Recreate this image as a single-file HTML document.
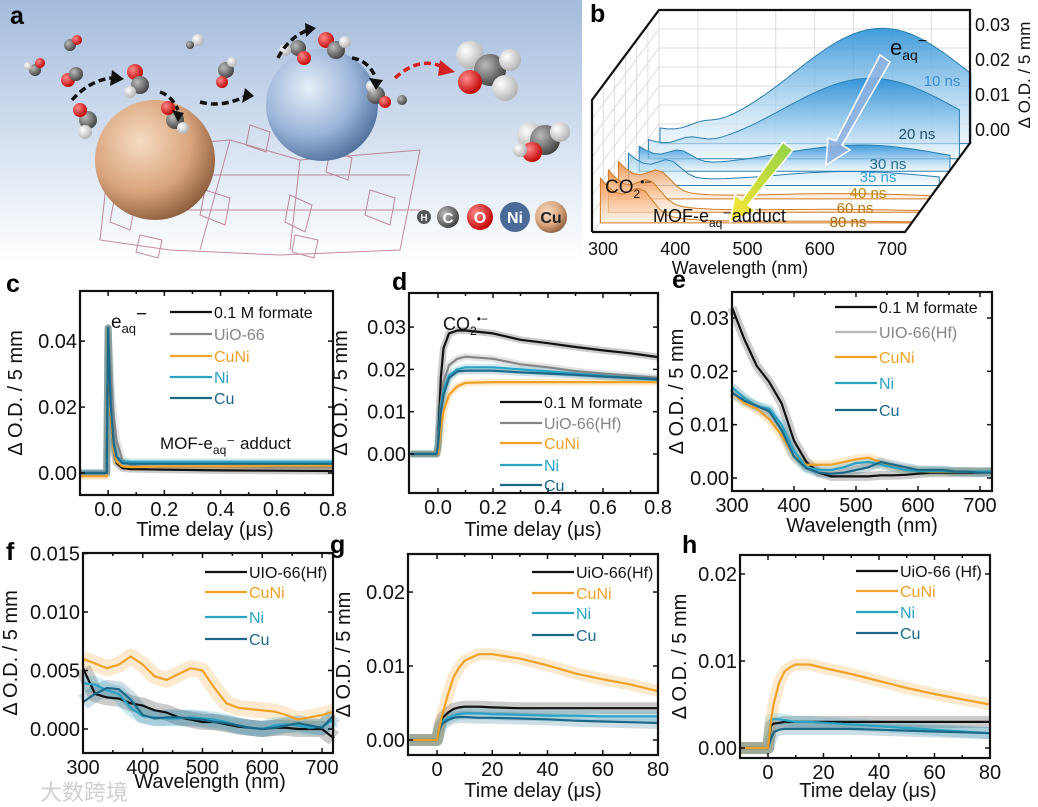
<!DOCTYPE html>
<html><head><meta charset="utf-8"><style>
html,body{margin:0;padding:0;background:#fff}
svg{display:block;font-family:"Liberation Sans","Noto Sans CJK SC",sans-serif}
</style></head><body>
<svg id="fig" width="1038" height="807" viewBox="0 0 1038 807" xmlns="http://www.w3.org/2000/svg">
<defs>
<linearGradient id="bgA" x1="0" y1="0" x2="0" y2="1"><stop offset="0" stop-color="#a4bbdd"/><stop offset="0.6" stop-color="#dbe5f2"/><stop offset="1" stop-color="#ffffff"/></linearGradient>
<radialGradient id="cuS" cx="0.38" cy="0.35" r="0.7"><stop offset="0" stop-color="#f6dcc2"/><stop offset="0.6" stop-color="#d9a47c"/><stop offset="1" stop-color="#8a5a3a"/></radialGradient>
<radialGradient id="niS" cx="0.38" cy="0.35" r="0.7"><stop offset="0" stop-color="#e6eef9"/><stop offset="0.6" stop-color="#9ab4d8"/><stop offset="1" stop-color="#4d6d99"/></radialGradient>
<radialGradient id="oS" cx="0.35" cy="0.35" r="0.7"><stop offset="0" stop-color="#ff8a8a"/><stop offset="1" stop-color="#c00000"/></radialGradient>
<radialGradient id="cS" cx="0.35" cy="0.35" r="0.7"><stop offset="0" stop-color="#bbbbbb"/><stop offset="1" stop-color="#404040"/></radialGradient>
<radialGradient id="hS" cx="0.35" cy="0.35" r="0.7"><stop offset="0" stop-color="#ffffff"/><stop offset="1" stop-color="#b0b0b0"/></radialGradient>
<linearGradient id="blueF" x1="0" y1="0" x2="0" y2="1"><stop offset="0" stop-color="#2a8fd6" stop-opacity="0.9"/><stop offset="1" stop-color="#e4f2fb" stop-opacity="0.6"/></linearGradient>
<linearGradient id="lblueF" x1="0" y1="0" x2="0" y2="1"><stop offset="0" stop-color="#7cc0e6" stop-opacity="0.7"/><stop offset="1" stop-color="#eef7fc" stop-opacity="0.5"/></linearGradient>
<linearGradient id="orF" x1="0" y1="0" x2="0" y2="1"><stop offset="0" stop-color="#f28a3a" stop-opacity="0.9"/><stop offset="1" stop-color="#fde9d8" stop-opacity="0.6"/></linearGradient>
<linearGradient id="arrY" x1="1" y1="0" x2="0" y2="1"><stop offset="0" stop-color="#8fd24a"/><stop offset="1" stop-color="#ffe733"/></linearGradient>
</defs>

<!-- PANEL A -->
<g>
<rect x="0" y="0" width="582" height="262" fill="url(#bgA)"/>
<g stroke="#b0667a" stroke-width="1" fill="none" opacity="0.75">
<polygon points="110,150 230,140 300,160 420,150 400,250 280,255 170,250 100,240"/>
<line x1="160" y1="210" x2="420" y2="210"/><line x1="170" y1="175" x2="410" y2="175"/>
<line x1="230" y1="140" x2="200" y2="250"/><line x1="300" y1="160" x2="290" y2="250"/>
<polygon points="115,195 135,205 130,230 110,222"/><polygon points="205,190 230,198 225,225 200,215"/>
<polygon points="290,195 312,205 305,232 285,222"/><polygon points="370,190 395,198 390,225 365,215"/>
<polygon points="250,125 270,132 266,152 246,145"/><polygon points="330,150 352,158 348,180 326,172"/>
<polygon points="140,235 162,240 158,258 136,252"/><polygon points="295,235 318,240 314,258 292,252"/>
</g>
<circle cx="155" cy="160" r="60" fill="url(#cuS)"/>
<circle cx="322" cy="105" r="56" fill="url(#niS)"/>
<g>
<circle cx="70" cy="45" r="6" fill="url(#cS)"/><circle cx="77" cy="40" r="5" fill="url(#oS)"/>
<circle cx="35" cy="70" r="6" fill="url(#cS)"/><circle cx="28" cy="66" r="4" fill="url(#hS)"/><circle cx="40" cy="63" r="5" fill="url(#oS)"/>
<circle cx="68" cy="80" r="7" fill="url(#oS)"/><circle cx="76" cy="74" r="7" fill="url(#cS)"/>
<circle cx="135" cy="72" r="8" fill="url(#oS)"/><circle cx="140" cy="85" r="9" fill="url(#cS)"/><circle cx="130" cy="92" r="6" fill="url(#hS)"/>
<circle cx="88" cy="120" r="9" fill="url(#cS)"/><circle cx="80" cy="110" r="7" fill="url(#oS)"/><circle cx="85" cy="132" r="7" fill="url(#hS)"/>
<circle cx="175" cy="120" r="9" fill="url(#cS)"/><circle cx="168" cy="108" r="7" fill="url(#oS)"/><circle cx="183" cy="128" r="6" fill="url(#hS)"/>
<circle cx="198" cy="40" r="6" fill="url(#hS)"/><circle cx="190" cy="45" r="4" fill="url(#cS)"/>
<circle cx="226" cy="70" r="8" fill="url(#cS)"/><circle cx="222" cy="82" r="6" fill="url(#oS)"/><circle cx="232" cy="62" r="5" fill="url(#hS)"/>
<circle cx="298" cy="48" r="8" fill="url(#cS)"/><circle cx="304" cy="58" r="7" fill="url(#oS)"/><circle cx="285" cy="50" r="6" fill="url(#hS)"/>
<circle cx="326" cy="40" r="8" fill="url(#oS)"/><circle cx="336" cy="50" r="9" fill="url(#cS)"/><circle cx="345" cy="42" r="6" fill="url(#hS)"/>
<circle cx="376" cy="95" r="9" fill="url(#cS)"/><circle cx="385" cy="102" r="6" fill="url(#oS)"/><circle cx="372" cy="86" r="6" fill="url(#hS)"/>
<circle cx="402" cy="100" r="5" fill="url(#cS)"/>
<circle cx="470" cy="55" r="14" fill="url(#hS)"/><circle cx="490" cy="70" r="16" fill="url(#cS)"/><circle cx="470" cy="82" r="12" fill="url(#oS)"/><circle cx="505" cy="88" r="13" fill="url(#hS)"/><circle cx="510" cy="60" r="11" fill="url(#hS)"/>
<circle cx="530" cy="135" r="13" fill="url(#hS)"/><circle cx="545" cy="140" r="15" fill="url(#cS)"/><circle cx="532" cy="152" r="10" fill="url(#oS)"/><circle cx="560" cy="132" r="10" fill="url(#hS)"/><circle cx="520" cy="150" r="7" fill="url(#hS)"/>
</g>
<g fill="none" stroke="#111" stroke-width="3.5" stroke-dasharray="7,4">
<path d="M72,100 Q90,80 112,78"/><path d="M160,92 Q172,96 178,110"/><path d="M200,102 Q222,108 246,96"/><path d="M278,58 Q288,38 308,30"/><path d="M352,58 Q368,60 376,78"/>
<path d="M395,78 Q420,55 445,68" stroke="#d42020"/>
</g>
<g>
<polygon points="112,70 124,79 110,86" fill="#111"/><polygon points="172,110 184,113 178,122" fill="#111"/><polygon points="245,88 254,96 242,103" fill="#111"/><polygon points="305,23 316,28 306,37" fill="#111"/><polygon points="369,78 383,80 376,90" fill="#111"/><polygon points="440,60 455,72 438,76" fill="#d42020"/>
</g>
<g font-weight="bold" text-anchor="middle">
<circle cx="424" cy="217" r="7" fill="#555"/><text x="424" y="221" font-size="10" fill="#fff">H</text>
<circle cx="448" cy="217" r="11" fill="url(#cS)"/><text x="448" y="223" font-size="15" fill="#fff">C</text>
<circle cx="480" cy="217" r="13" fill="url(#oS)"/><text x="480" y="223" font-size="16" fill="#fff">O</text>
<circle cx="515" cy="217" r="15" fill="#4a6a98"/><text x="515" y="223" font-size="16" fill="#fff">Ni</text>
<circle cx="551" cy="217" r="16" fill="url(#cuS)"/><text x="551" y="223" font-size="16" fill="#222">Cu</text>
</g>
</g>

<g font-weight="bold" font-size="25" fill="#000">
<text x="10" y="24">a</text><text x="590" y="22">b</text><text x="6" y="292">c</text><text x="392" y="290">d</text><text x="672" y="288">e</text><text x="6" y="560">f</text><text x="330" y="553">g</text><text x="682" y="553">h</text>
</g>

<g id="panelB"></g>
<g id="plots"></g>
<text x="40" y="800" font-size="22" fill="#cfcfcf">大数跨境</text>
</svg>
<script>
// ---------- DATA ----------
// panel b (3D transient spectra)
const bTimes = ['10 ns','20 ns','30 ns','35 ns','40 ns','60 ns','80 ns'];
const bEaq = [0.033, 0.023, 0.0075, 0.004, 0.0015, 0.0008, 0.0005];
const bCO2 = [0.004, 0.006, 0.009, 0.012, 0.014, 0.016, 0.017];
const bDepth = [0.97, 0.8, 0.66, 0.5, 0.35, 0.2, 0.08];
const bYTicks = [0, 0.01, 0.02, 0.03];
const bXTicks = [300, 400, 500, 600, 700];

// panel c
const cX = [-0.1,-0.005,0,0.005,0.01,0.02,0.03,0.05,0.08,0.1,0.2,0.4,0.6,0.8];
const cFormate = [0,0,0.044,0.028,0.017,0.007,0.003,0.0015,0.0012,0.0012,0.001,0.0008,0.0007,0.0006];
const cUio = [0,0,0.044,0.036,0.028,0.017,0.010,0.004,0.0025,0.002,0.0018,0.0018,0.0017,0.0017];
const cCuNi = [-0.001,-0.001,0.044,0.028,0.017,0.007,0.0035,0.002,0.0018,0.0018,0.002,0.002,0.0022,0.0022];
const cNi = [0,0,0.044,0.03,0.02,0.009,0.005,0.0035,0.0034,0.0034,0.0034,0.0034,0.0034,0.0034];
const cCu = [0,0,0.044,0.03,0.02,0.009,0.005,0.003,0.0028,0.0028,0.0028,0.0028,0.0028,0.0028];
// panel d
const dX = [-0.1,-0.005,0,0.01,0.02,0.04,0.07,0.1,0.2,0.3,0.4,0.5,0.6,0.7,0.8];
const dFormate = [0,0,0.002,0.018,0.025,0.0285,0.0292,0.0292,0.0285,0.027,0.0262,0.0253,0.0245,0.0238,0.0229];
const dUio = [0,0,0.002,0.012,0.017,0.021,0.0225,0.023,0.0225,0.0212,0.0205,0.0196,0.019,0.0185,0.018];
const dCuNi = [0,0,0,0.006,0.010,0.014,0.016,0.0168,0.017,0.017,0.017,0.017,0.017,0.017,0.017];
const dNi = [0,0,0.002,0.011,0.015,0.0185,0.02,0.0205,0.0205,0.02,0.0195,0.019,0.0185,0.018,0.0175];
const dCu = [0,0,0.002,0.010,0.014,0.018,0.0195,0.0197,0.0197,0.0193,0.019,0.0187,0.0183,0.018,0.0177];
// panel e
const eX = [300,320,340,360,380,400,420,440,460,480,500,520,540,560,580,600,620,640,660,680,700,720];
const eFormate = [0.032,0.026,0.021,0.018,0.014,0.007,0.003,0.001,0.0003,0.0003,0.0003,0.0003,0.0005,0.0005,0.0006,0.0008,0.001,0.001,0.001,0.001,0.001,0.0012];
const eUio = [0.017,0.015,0.013,0.012,0.009,0.005,0.002,0.0012,0.001,0.0015,0.0022,0.0025,0.0025,0.002,0.0018,0.0015,0.0014,0.0013,0.0012,0.0012,0.0012,0.0012];
const eCuNi = [0.016,0.014,0.013,0.011,0.008,0.004,0.0025,0.0025,0.0025,0.003,0.0035,0.0038,0.003,0.002,0.0015,0.0013,0.0012,0.0012,0.0012,0.0012,0.0012,0.0012];
const eNi = [0.017,0.015,0.0135,0.013,0.010,0.005,0.002,0.0015,0.0015,0.002,0.0028,0.003,0.0025,0.002,0.0015,0.0013,0.0013,0.0013,0.0012,0.0012,0.0012,0.0012];
const eCu = [0.016,0.0145,0.0135,0.0125,0.009,0.004,0.0018,0.001,0.0008,0.001,0.0015,0.002,0.003,0.0025,0.002,0.0015,0.0015,0.0015,0.0012,0.0012,0.001,0.001];
// panel f
const fX = [300,320,340,360,380,400,420,440,460,480,500,520,540,560,580,600,620,640,660,680,700,720];
const fUio = [0.0052,0.003,0.0027,0.0026,0.0022,0.002,0.0016,0.0014,0.001,0.0008,0.0006,0.0006,0.0004,0.0002,0.0001,0,0.0001,0.0001,0,0,0,-0.0008];
const fCuNi = [0.006,0.0056,0.0052,0.0055,0.0062,0.0055,0.0045,0.0042,0.0047,0.0052,0.005,0.0035,0.0022,0.0018,0.0017,0.0016,0.0015,0.0012,0.0008,0.001,0.0012,0.0015];
const fNi = [0.0039,0.0038,0.0033,0.003,0.0018,0.0011,0.001,0.0009,0.0009,0.001,0.0009,0.0008,0.0006,0.0003,0.0001,0,0.0003,0.0004,0.0003,0.0001,0.0002,0.0008];
const fCu = [0.0023,0.003,0.0035,0.0034,0.0025,0.0012,0.0009,0.001,0.001,0.0009,0.0008,0.0006,0.0005,0.0003,0.0001,0,0.0001,0.0003,0.0005,0.0003,0.0001,0.0012];
// panel g
const gX = [-10,-0.5,0,1,2,4,6,8,10,15,20,30,40,50,60,70,80];
const gUio = [0,0,0,0.002,0.003,0.0037,0.0042,0.0044,0.0045,0.0045,0.0044,0.0043,0.0043,0.0043,0.0043,0.0043,0.0043];
const gCuNi = [0,0,0,0.002,0.0035,0.0062,0.0085,0.0098,0.0107,0.0116,0.0116,0.011,0.0101,0.009,0.0082,0.0075,0.0066];
const gNi = [0,0,0,0.0018,0.0025,0.003,0.0033,0.0035,0.0036,0.0036,0.0035,0.0034,0.0033,0.0033,0.0032,0.0032,0.0032];
const gCu = [0,0,0,0.0015,0.0022,0.0027,0.003,0.0031,0.0031,0.003,0.003,0.0029,0.0028,0.0026,0.0025,0.0024,0.0023];
// panel h
const hX = [-10,-0.5,0,1,2,4,6,8,10,15,20,30,40,50,60,70,80];
const hUio = [0,0,0,0.0025,0.0028,0.0029,0.003,0.003,0.003,0.003,0.003,0.003,0.003,0.003,0.003,0.003,0.003];
const hCuNi = [0,0,0,0.003,0.005,0.0075,0.0088,0.0093,0.0096,0.0096,0.0092,0.0085,0.0077,0.0069,0.0062,0.0056,0.005];
const hNi = [0,0,0,0.0032,0.0033,0.0033,0.0032,0.0031,0.003,0.003,0.0029,0.0027,0.0025,0.0023,0.0021,0.0019,0.0017];
const hCu = [0,0,0,0.001,0.0018,0.0021,0.0022,0.0022,0.0022,0.0022,0.0022,0.0022,0.0021,0.002,0.0019,0.0018,0.0017];

const COL = {black:'#111111', grey:'#858585', lgrey:'#b8b8b8', orange:'#f2a127', ni:'#29a2c4', cu:'#1b6888'};
const NS = 'http://www.w3.org/2000/svg';
function mk(tag, attrs, parent){const e=document.createElementNS(NS,tag);for(const k in attrs)e.setAttribute(k,attrs[k]);parent.appendChild(e);return e;}

// ---------- PANEL B ----------
(function(){
  const g = document.getElementById('panelB');
  const grid = mk('g',{stroke:'#dcdcdc','stroke-width':1,fill:'none'},g);
  
  
  for(let i=0;i<=8;i++){const x=659+i*38.9;mk('line',{x1:x,y1:10,x2:x,y2:143},grid);}
  for(let i=0;i<=7;i++){const y=10+i*19;mk('line',{x1:659,y1:y,x2:970,y2:y},grid);mk('line',{x1:592,y1:y+90,x2:659,y2:y},grid);}
  for(let i=1;i<=5;i++){const t=i/6;mk('line',{x1:592+67*t,y1:100-90*t,x2:592+67*t,y2:232-89*t},grid);}
  const xs = l=>595+(l-300)*0.74;
  const sp = (i,l)=> bEaq[i]*Math.exp(-Math.pow((l-600)/170,2)) + bCO2[i]*(0.75*Math.exp(-(l-300)/45)+0.35*Math.exp(-Math.pow((l-355)/22,2)));
  for(let i=0;i<bTimes.length;i++){
    const d=bDepth[i], bx=67*d, by=230-89*d;
    let pts=[];
    for(let l=300;l<=720;l+=10){pts.push([xs(l)+bx, by-3500*sp(i,l)]);}
    let dstr='M'+(xs(300)+bx)+','+by+' '+pts.map(p=>'L'+p[0].toFixed(1)+','+p[1].toFixed(1)).join(' ')+' L'+(xs(720)+bx)+','+by+' Z';
    const fill = i<3?'url(#blueF)':(i===3?'url(#lblueF)':'url(#orF)');
    const stroke = i<4?'#2a7fb0':'#d07a20';
    const s=mk('path',{d:dstr,fill:fill,stroke:stroke,'stroke-width':1},g);
    
    
  }
  const frame = mk('g',{stroke:'#111','stroke-width':2.2,fill:'none'},g);
  
  
  mk('polyline',{points:'592,232 592,100 659,10 970,10 970,143 905,232 592,232'},frame);
  const lblCols=['#3a8fd0','#1f4f6a','#2a6f8f','#3aa0d8','#b8860b','#b87a10','#a86d10'];
  const lblPos=[[942,80],[917,133],[888,163],[878,176],[868,192],[855,207],[848,221]];
  for(let i=0;i<bTimes.length;i++){
    const t=mk('text',{x:lblPos[i][0],y:lblPos[i][1]+6,'font-size':15,'text-anchor':'middle',fill:lblCols[i]},g);
    
    
    t.textContent=bTimes[i];
  }
  const a1=mk('polygon',{points:'880,55 890,62 842,145 850,150 826,165 828,138 836,141',fill:'#8fb2e0','fill-opacity':0.85,stroke:'#fff','stroke-width':1.5},g);
  
  
  const a2=mk('polygon',{points:'783,142 793,150 748,205 756,211 730,222 735,195 742,200',fill:'url(#arrY)',stroke:'#fff','stroke-width':1.5},g);
  
  
  const yt=mk('g',{'font-size':18,fill:'#111'},g);
  
  
  bYTicks.forEach(v=>{const t=mk('text',{x:975,y:136-3500*v},yt);t.textContent=v.toFixed(2);});
  const xt=mk('g',{'font-size':18,fill:'#111','text-anchor':'middle'},g);
  
  
  bXTicks.forEach(v=>{const t=mk('text',{x:603+(v-300)*0.7225,y:255},xt);t.textContent=v;});
  const xl=mk('text',{x:740,y:274,'font-size':18,'text-anchor':'middle',fill:'#111'},g);
  
  
  xl.textContent='Wavelength (nm)';
  const zl=mk('text',{x:1030,y:75,'font-size':17,'text-anchor':'middle',fill:'#111',transform:'rotate(-90 1030 75)'},g);
  
  
  zl.textContent='Δ O.D. / 5 mm';
  const e1=mk('text',{x:890,y:55,'font-size':22,fill:'#111'},g);
  
  
  e1.innerHTML='e<tspan font-size="14" dy="5">aq</tspan><tspan dy="-14" font-size="16">−</tspan>';
  const e2=mk('text',{x:605,y:193,'font-size':19,fill:'#111'},g);
  
  
  e2.innerHTML='CO<tspan font-size="12" dy="5">2</tspan><tspan font-size="12" dy="-12">•−</tspan>';
  const e3=mk('text',{x:653,y:222,'font-size':18,fill:'#111'},g);
  
  
  e3.innerHTML='MOF-e<tspan font-size="12" dy="5">aq</tspan><tspan dy="-5">⁻adduct</tspan>';
})();

// ---------- LINE PANELS ----------
function panel(id, cfg){
  const root=document.getElementById('plots');
  const g=mk('g',{},root);
  
  
  const X=v=>cfg.L+(v-cfg.x0)/(cfg.x1-cfg.x0)*(cfg.R-cfg.L);
  const Y=v=>cfg.B-(v-cfg.y0)/(cfg.y1-cfg.y0)*(cfg.B-cfg.T);
  const order=cfg.series;
  order.forEach(s=>{
    const pts=cfg.xs.map((x,i)=>X(x).toFixed(1)+','+Y(s.v[i]).toFixed(1)).join(' ');
    const b=mk('polyline',{points:pts,fill:'none',stroke:s.c,'stroke-width':cfg.band,'stroke-opacity':0.22,'stroke-linejoin':'round'},g);
    
    
  });
  order.forEach(s=>{
    const pts=cfg.xs.map((x,i)=>X(x).toFixed(1)+','+Y(s.v[i]).toFixed(1)).join(' ');
    const l=mk('polyline',{points:pts,fill:'none',stroke:s.c,'stroke-width':2.2,'stroke-linejoin':'round'},g);
    
    
  });
  const box=mk('rect',{x:cfg.L,y:cfg.T,width:cfg.R-cfg.L,height:cfg.B-cfg.T,fill:'none',stroke:'#111','stroke-width':2.2},g);
  
  
  const tk=mk('g',{stroke:'#111','stroke-width':1.5},g);
  
  
  cfg.xt.forEach((v,i)=>{const x=X(v);mk('line',{x1:x,y1:cfg.B,x2:x,y2:cfg.B-5},tk);mk('line',{x1:x,y1:cfg.T,x2:x,y2:cfg.T+5},tk);
    if(i<cfg.xt.length-1){const xm=X((v+cfg.xt[i+1])/2);mk('line',{x1:xm,y1:cfg.B,x2:xm,y2:cfg.B-3},tk);mk('line',{x1:xm,y1:cfg.T,x2:xm,y2:cfg.T+3},tk);}});
  cfg.yt.forEach(v=>{const y=Y(v);mk('line',{x1:cfg.L,y1:y,x2:cfg.L+5,y2:y},tk);mk('line',{x1:cfg.R,y1:y,x2:cfg.R-5,y2:y},tk);});
  const xl=mk('g',{'font-size':20,fill:'#111','text-anchor':'middle'},g);
  
  
  cfg.xt.forEach((v,i)=>{const t=mk('text',{x:X(v),y:cfg.B+21},xl);t.textContent=cfg.xtl[i];});
  const yl=mk('g',{'font-size':20,fill:'#111','text-anchor':'end'},g);
  
  
  cfg.yt.forEach((v,i)=>{const t=mk('text',{x:cfg.L-3,y:Y(v)+7},yl);t.textContent=cfg.ytl[i];});
  const xt=mk('text',{x:cfg.xtx,y:cfg.xty,'font-size':20,fill:'#111','text-anchor':'middle'},g);
  
  
  xt.textContent=cfg.xtitle;
  const ym=(cfg.T+cfg.B)/2;
  const yti=mk('text',{x:cfg.ytx,y:ym,'font-size':20,fill:'#111','text-anchor':'middle',transform:'rotate(-90 '+cfg.ytx+' '+ym+')'},g);
  
  
  yti.textContent='Δ O.D. / 5 mm';
  const lg=mk('g',{'font-size':16},g);
  
  
  cfg.leg.forEach((s,i)=>{
    const y=cfg.legY[i];
    const ln=mk('line',{x1:cfg.legX,y1:y,x2:cfg.legX+42,y2:y,stroke:s.lc||s.c,'stroke-width':2.2},lg);
    
    
    const t=mk('text',{x:cfg.legX+44,y:y+6,fill:s.tc},lg);
    
    
    t.textContent=s.name;
  });
  return {g,X,Y};
}
const yt3=['0.00','0.01','0.02','0.03'];
const pc=panel('c',{L:80,R:333,T:291,B:495,x0:-0.1,x1:0.8,y0:-0.00667,y1:0.0552,xs:cX,band:7,
  xt:[0,0.2,0.4,0.6,0.8],xtl:['0.0','0.2','0.4','0.6','0.8'],yt:[0,0.02,0.04],ytl:['0.00','0.02','0.04'],
  xtitle:'Time delay (μs)',xtx:205,xty:536,ytx:22,
  series:[{k:'formate',c:COL.black,v:cFormate},{k:'uio66',c:COL.grey,v:cUio},{k:'cuni',c:COL.orange,v:cCuNi},{k:'ni',c:COL.ni,v:cNi},{k:'cu',c:COL.cu,v:cCu}],
  leg:[{k:'formate',c:COL.black,tc:'#111',name:'0.1 M formate'},{k:'uio66',c:COL.grey,tc:COL.grey,name:'UiO-66'},{k:'cuni',c:COL.orange,tc:COL.orange,name:'CuNi'},{k:'ni',c:COL.ni,tc:COL.ni,name:'Ni'},{k:'cu',c:COL.cu,tc:COL.cu,name:'Cu'}],
  legX:170,legY:[312,334,356,377,398]});
const pd=panel('d',{L:409,R:658,T:293,B:493,x0:-0.1055,x1:0.8,y0:-0.00922,y1:0.03806,xs:dX,band:7,
  xt:[0,0.2,0.4,0.6,0.8],xtl:['0.0','0.2','0.4','0.6','0.8'],yt:[0,0.01,0.02,0.03],ytl:yt3,
  xtitle:'Time delay (μs)',xtx:533,xty:536,ytx:347,
  series:[{k:'formate',c:COL.black,v:dFormate},{k:'uio66',c:COL.grey,v:dUio},{k:'cuni',c:COL.orange,v:dCuNi},{k:'ni',c:COL.ni,v:dNi},{k:'cu',c:COL.cu,v:dCu}],
  leg:[{k:'formate',c:COL.black,tc:'#111',name:'0.1 M formate'},{k:'uio66',c:COL.grey,tc:COL.grey,name:'UiO-66(Hf)'},{k:'cuni',c:COL.orange,tc:COL.orange,name:'CuNi'},{k:'ni',c:COL.ni,tc:COL.ni,name:'Ni'},{k:'cu',c:COL.cu,tc:COL.cu,name:'Cu'}],
  legX:500,legY:[402,423,443,465,485]});
const pe=panel('e',{L:732,R:992,T:292,B:491,x0:300,x1:719.4,y0:-0.00244,y1:0.03488,xs:eX,band:9,
  xt:[300,400,500,600,700],xtl:['300','400','500','600','700'],yt:[0,0.01,0.02,0.03],ytl:yt3,
  xtitle:'Wavelength (nm)',xtx:862,xty:532,ytx:683,
  series:[{k:'formate',c:COL.black,v:eFormate},{k:'uio66',c:COL.lgrey,v:eUio},{k:'cuni',c:COL.orange,v:eCuNi},{k:'ni',c:COL.ni,v:eNi},{k:'cu',c:COL.cu,v:eCu}],
  leg:[{k:'formate',c:COL.black,tc:'#111',name:'0.1 M formate'},{k:'uio66',c:COL.lgrey,tc:COL.grey,name:'UIO-66(Hf)'},{k:'cuni',c:COL.orange,tc:COL.orange,name:'CuNi'},{k:'ni',c:COL.ni,tc:COL.ni,name:'Ni'},{k:'cu',c:COL.cu,tc:COL.cu,name:'Cu'}],
  legX:835,legY:[307,332,357,383,410]});
const pf=panel('f',{L:83,R:333,T:553,B:753,x0:300,x1:718.4,y0:-0.00205,y1:0.01504,xs:fX,band:16,
  xt:[300,400,500,600,700],xtl:['300','400','500','600','700'],yt:[0,0.005,0.01,0.015],ytl:['0.000','0.005','0.010','0.015'],
  xtitle:'Wavelength (nm)',xtx:210,xty:788,ytx:17,
  series:[{k:'uio66',c:COL.black,v:fUio},{k:'cuni',c:COL.orange,v:fCuNi},{k:'ni',c:COL.ni,v:fNi},{k:'cu',c:COL.cu,v:fCu}],
  leg:[{k:'uio66',c:COL.black,tc:'#111',name:'UIO-66(Hf)'},{k:'cuni',c:COL.orange,tc:COL.orange,name:'CuNi'},{k:'ni',c:COL.ni,tc:COL.ni,name:'Ni'},{k:'cu',c:COL.cu,tc:COL.cu,name:'Cu'}],
  legX:205,legY:[572,592,617,639]});
const pg=panel('g',{L:408,R:658,T:554,B:755,x0:-10.5,x1:80,y0:-0.00203,y1:0.02514,xs:gX,band:12,
  xt:[0,20,40,60,80],xtl:['0','20','40','60','80'],yt:[0,0.01,0.02],ytl:['0.00','0.01','0.02'],
  xtitle:'Time delay (μs)',xtx:533,xty:797,ytx:350,
  series:[{k:'uio66',c:COL.black,v:gUio},{k:'ni',c:COL.ni,v:gNi},{k:'cu',c:COL.cu,v:gCu},{k:'cuni',c:COL.orange,v:gCuNi}],
  leg:[{k:'uio66',c:COL.black,tc:'#111',name:'UiO-66(Hf)'},{k:'cuni',c:COL.orange,tc:COL.orange,name:'CuNi'},{k:'ni',c:COL.ni,tc:COL.ni,name:'Ni'},{k:'cu',c:COL.cu,tc:COL.cu,name:'Cu'}],
  legX:532,legY:[572,593,613,635]});
const ph=panel('h',{L:740,R:990,T:555,B:758,x0:-10.09,x1:80,y0:-0.00115,y1:0.02218,xs:hX,band:12,
  xt:[0,20,40,60,80],xtl:['0','20','40','60','80'],yt:[0,0.01,0.02],ytl:['0.00','0.01','0.02'],
  xtitle:'Time delay (μs)',xtx:868,xty:797,ytx:686,
  series:[{k:'uio66',c:COL.black,v:hUio},{k:'ni',c:COL.ni,v:hNi},{k:'cu',c:COL.cu,v:hCu},{k:'cuni',c:COL.orange,v:hCuNi}],
  leg:[{k:'uio66',c:COL.black,tc:'#111',name:'UiO-66 (Hf)'},{k:'cuni',c:COL.orange,tc:COL.orange,name:'CuNi'},{k:'ni',c:COL.ni,tc:COL.ni,name:'Ni'},{k:'cu',c:COL.cu,tc:COL.cu,name:'Cu'}],
  legX:856,legY:[571,591,612,633]});

const ann1=mk('text',{x:111,y:328,'font-size':19,fill:'#111'},pc.g);


ann1.innerHTML='e<tspan font-size="13" dy="5">aq</tspan><tspan dy="-13">−</tspan>';
const ann2=mk('text',{x:160,y:449,'font-size':17,fill:'#111'},pc.g);


ann2.innerHTML='MOF-e<tspan font-size="12" dy="5">aq</tspan><tspan dy="-5">⁻ adduct</tspan>';
const ann3=mk('text',{x:443,y:330,'font-size':18,fill:'#111'},pd.g);


ann3.innerHTML='CO<tspan font-size="12" dy="5">2</tspan><tspan font-size="12" dy="-12">•−</tspan>';
</script>
</body></html>
